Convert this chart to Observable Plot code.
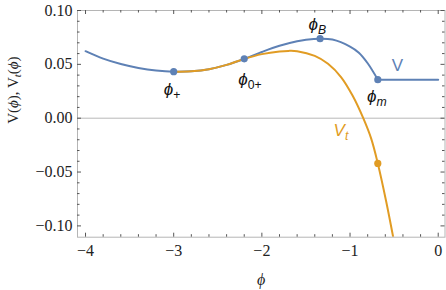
<!DOCTYPE html>
<html><head><meta charset="utf-8">
<script src="https://cdn.jsdelivr.net/npm/d3@7"></script>
<script src="https://cdn.jsdelivr.net/npm/@observablehq/plot@0.6"></script>
<style>body{margin:0;background:#fff}</style>
</head><body><div id="chart"></div>
<script>
// ---- data ----
const xTicks = [-4, -3, -2, -1, 0];
const yTicks = [-0.10, -0.05, 0, 0.05, 0.10];

// V(phi): smooth part up to phi_m, then flat
const vPhi = [-4.0, -3.8, -3.6, -3.4, -3.2, -3.0, -2.8, -2.6, -2.4, -2.2, -2.0, -1.8, -1.6, -1.5, -1.34, -1.2, -1.0, -0.9, -0.8, -0.685];
const vVal = [0.0622, 0.0553, 0.0503, 0.0467, 0.0443, 0.0432, 0.0436, 0.0455, 0.0495, 0.0551, 0.0615, 0.0672, 0.0714, 0.0728, 0.0738, 0.0730, 0.0665, 0.0608, 0.0510, 0.0358];
const vFlatPhi = [-0.685, 0];
const vFlatVal = [0.0358, 0.0358];

// V_t(phi)
const vtPhi = [-3.0, -2.8, -2.6, -2.4, -2.2, -2.0, -1.8, -1.7, -1.6, -1.4, -1.25, -1.1, -0.97, -0.85, -0.76, -0.685, -0.59, -0.5];
const vtVal = [0.0432, 0.0436, 0.0455, 0.0495, 0.0551, 0.0595, 0.0620, 0.0625, 0.0622, 0.0578, 0.0505, 0.0380, 0.0208, 0.0, -0.019, -0.042, -0.0773, -0.115];

// marked points
const vPtPhi = [-3.0, -2.2, -1.34, -0.685];
const vPtVal = [0.0432, 0.0551, 0.0738, 0.0358];
const vtPtPhi = [-0.685];
const vtPtVal = [-0.042];

// annotations
const phiLabText = ["*ϕ*_{+}", "*ϕ*_{0+}", "*ϕ*_{*B*}", "*ϕ*_{*m*}"];
const phiLabPhi = [-3.019, -2.135, -1.370, -0.695];
const phiLabVal = [0.0267, 0.036, 0.087, 0.0202];
const curveLabText = ["V", "*V*_{*t*}"];
const curveLabPhi = [-0.463, -1.103];
const curveLabVal = [0.049, -0.0118];

const blue = "#5E81B5", orange = "#E19C24";

// ---- tables ----
const vData = vPhi.map((x, i) => ({x, y: vVal[i], seg: "curve"}))
  .concat(vFlatPhi.map((x, i) => ({x, y: vFlatVal[i], seg: "flat"})));
const vtData = vtPhi.map((x, i) => ({x, y: vtVal[i]}));
const vPts = vPtPhi.map((x, i) => ({x, y: vPtVal[i]}));
const vtPts = vtPtPhi.map((x, i) => ({x, y: vtPtVal[i]}));
const phiLabs = phiLabText.map((t, i) => ({t, x: phiLabPhi[i], y: phiLabVal[i]}));
const curveLabs = curveLabText.map((t, i) => ({t, x: curveLabPhi[i], y: curveLabVal[i], c: i === 0 ? blue : orange}));

const W = 446, H = 290, mL = 77, mR = 1.5, mT = 10, mB = 53.3;
const iW = W - mL - mR, iH = H - mT - mB;
const isMajor = (arr) => (v) => arr.some(m => Math.abs(m - v) < 1e-9);
const xMinor = d3.range(-40, 1, 2).map(i => i / 10).filter(v => !isMajor(xTicks)(v));
const yMinor = d3.range(-10, 11).map(i => i / 100).filter(v => !isMajor(yTicks)(v));
const tickCol = "#555", major = 4, minor = 2.5;
const sans = "'Liberation Sans', Arial, sans-serif";

const chart = Plot.plot({
  width: W, height: H,
  marginLeft: mL, marginRight: mR, marginTop: mT, marginBottom: mB,
  x: {domain: [-4.091, 0.077]},
  y: {domain: [-0.1105, 0.1]},
  style: {fontFamily: "'Liberation Serif', serif", fontSize: "16px", background: "#fff", overflow: "visible"},
  marks: [
    Plot.ruleY([0], {stroke: "#b8b8b8", strokeWidth: 1}),
    Plot.line(vData, {x: "x", y: "y", z: "seg", stroke: blue, strokeWidth: 2, curve: "catmull-rom"}),
    Plot.line(vtData, {x: "x", y: "y", stroke: orange, strokeWidth: 2, curve: "catmull-rom", clip: true}),
    Plot.dot(vPts, {x: "x", y: "y", r: 3.6, fill: blue}),
    Plot.dot(vtPts, {x: "x", y: "y", r: 3.6, fill: orange}),
    Plot.frame({stroke: "#b5b5b5", strokeWidth: 1}),
    // inward ticks on all four sides
    Plot.ruleX(xTicks, {stroke: tickCol, insetTop: iH - major}),
    Plot.ruleX(xTicks, {stroke: tickCol, insetBottom: iH - major}),
    Plot.ruleX(xMinor, {stroke: tickCol, insetTop: iH - minor}),
    Plot.ruleX(xMinor, {stroke: tickCol, insetBottom: iH - minor}),
    Plot.ruleY(yTicks, {stroke: tickCol, insetRight: iW - major}),
    Plot.ruleY(yTicks, {stroke: tickCol, insetLeft: iW - major}),
    Plot.ruleY(yMinor, {stroke: tickCol, insetRight: iW - minor}),
    Plot.ruleY(yMinor, {stroke: tickCol, insetLeft: iW - minor}),
    Plot.axisX(xTicks, {tickSize: 0, tickPadding: 7, tickFormat: d3.format("d"), fontSize: 16, label: null, fill: "#222"}),
    Plot.axisY(yTicks, {tickSize: 0, tickPadding: 5, tickFormat: d3.format(".2f"), fontSize: 16, label: null, fill: "#222"}),
    Plot.text(phiLabs, {x: "x", y: "y", text: "t", fontFamily: sans, fontSize: 17, fill: "#111"}),
    Plot.text(curveLabs, {x: "x", y: "y", text: "t", fill: "c", fontFamily: sans, fontSize: 17}),
    Plot.text(["ϕ"], {frameAnchor: "bottom", dy: 48, text: d => d, fontStyle: "italic", fontSize: 16, fill: "#222"}),
    Plot.text(["V(*ϕ*), V_{*t*}(*ϕ*)"], {frameAnchor: "left", dx: -64.5, rotate: -90, text: d => d, fontSize: 15, fill: "#222"})
  ]
});

// rich text: _{sub} for subscripts, *x* for italic (also inside subscripts)
function richify(svg) {
  const NS = "http://www.w3.org/2000/svg";
  const unstar = (p, ts) => {
    if (p.length > 1 && p.startsWith("*") && p.endsWith("*")) { ts.setAttribute("font-style", "italic"); return p.slice(1, -1); }
    return p;
  };
  svg.querySelectorAll("text").forEach(t => {
    const s = t.textContent;
    if (!/_\{|\*/.test(s)) return;
    while (t.firstChild) t.removeChild(t.firstChild);
    let shifted = false;
    s.split(/(_\{[^}]*\}|\*[^*]*\*)/).filter(p => p).forEach(p => {
      const ts = document.createElementNS(NS, "tspan");
      if (p.startsWith("_{")) {
        ts.textContent = unstar(p.slice(2, -1), ts);
        ts.setAttribute("font-size", "72%");
        ts.setAttribute("dy", "0.3em");
        shifted = true;
      } else {
        ts.textContent = unstar(p, ts);
        if (shifted) { ts.setAttribute("dy", "-0.216em"); shifted = false; }
      }
      t.appendChild(ts);
    });
  });
}
richify(chart);
document.getElementById("chart").appendChild(chart);
</script>
</body></html>
